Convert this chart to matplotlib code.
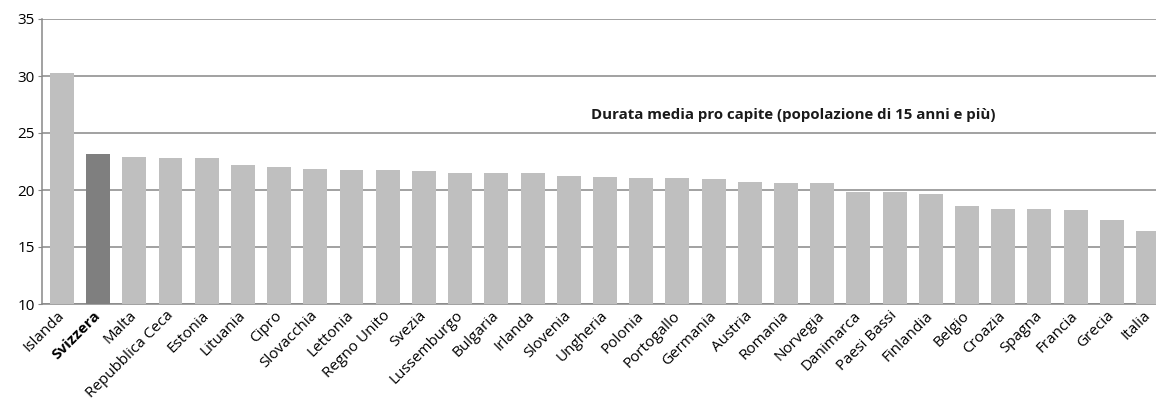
import matplotlib
matplotlib.use("Agg")
import matplotlib.pyplot as plt
import matplotlib.transforms as mtransforms
import numpy as np

plt.rcParams["font.family"] = ["Open Sans", "DejaVu Sans"]

# data
paesi = ["Islanda", "Svizzera", "Malta", "Repubblica Ceca", "Estonia", "Lituania",
         "Cipro", "Slovacchia", "Lettonia", "Regno Unito", "Svezia", "Lussemburgo",
         "Bulgaria", "Irlanda", "Slovenia", "Ungheria", "Polonia", "Portogallo",
         "Germania", "Austria", "Romania", "Norvegia", "Danimarca", "Paesi Bassi",
         "Finlandia", "Belgio", "Croazia", "Spagna", "Francia", "Grecia", "Italia"]
durata = [30.3, 23.2, 22.9, 22.8, 22.8, 22.2, 22.0, 21.8, 21.75, 21.75, 21.65, 21.5,
          21.5, 21.5, 21.2, 21.1, 21.05, 21.05, 20.95, 20.7, 20.6, 20.6, 19.8, 19.8,
          19.65, 18.6, 18.3, 18.3, 18.25, 17.4, 16.4]
evidenza = "Svizzera"
titolo = "Durata media pro capite (popolazione di 15 anni e più)"

W, H = 1156, 403
fig = plt.figure(figsize=(W / 100, H / 100), dpi=100)
ax = fig.add_axes([42 / W, (H - 304) / H, 1 - 42 / W, 285 / H])

x = np.arange(len(paesi))
colori = ["#7f7f7f" if p == evidenza else "#bfbfbf" for p in paesi]
ax.bar(x, durata, width=0.66, color=colori, zorder=3)

ax.set_ylim(10, 35)
ax.set_yticks(range(10, 36, 5))
ax.set_xlim(-0.55, len(paesi) - 0.78)
ax.yaxis.grid(True, color="#888888", linewidth=1.1, zorder=0)
ax.set_axisbelow(True)

for s in ["top", "right"]:
    ax.spines[s].set_visible(False)
for s in ["left", "bottom"]:
    ax.spines[s].set_color("#888888")
    ax.spines[s].set_linewidth(1.1)
ax.spines["bottom"].set_zorder(2)

ax.tick_params(axis="y", length=3, color="#888888", labelsize=11, pad=2)
ax.tick_params(axis="x", length=0, labelsize=11, pad=3)
ax.set_xticks(x)
ax.set_xticklabels(paesi, rotation=45, ha="right", rotation_mode="anchor")
shift = mtransforms.ScaledTranslation(-5 / 100, 0, fig.dpi_scale_trans)
for lab in ax.get_xticklabels():
    lab.set_transform(lab.get_transform() + shift)
    if lab.get_text() == evidenza:
        lab.set_fontweight("bold")

ax.text(0.674, 0.663, titolo, transform=ax.transAxes, ha="center", va="center",
        fontsize=10.8, fontweight="bold", color="#1a1a1a")

fig.savefig("out.png", dpi=100)
